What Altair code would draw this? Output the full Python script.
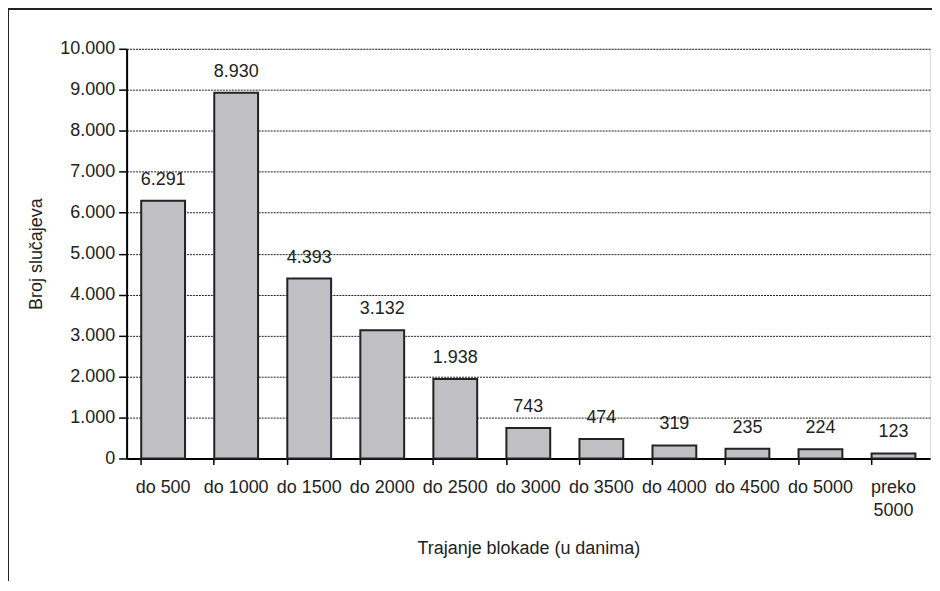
import altair as alt
import pandas as pd

categories = ["do 500", "do 1000", "do 1500", "do 2000", "do 2500", "do 3000",
              "do 3500", "do 4000", "do 4500", "do 5000", "preko 5000"]
values = [6291, 8930, 4393, 3132, 1938, 743, 474, 319, 235, 224, 123]

df = pd.DataFrame({"kat": categories, "broj": values})

FONT = "Liberation Sans"
FS = 18
W, H = 806, 411

x_enc = alt.X(
    "kat:N", sort=categories,
    scale=alt.Scale(paddingInner=0.4, paddingOuter=0.2),
    axis=alt.Axis(
        title="Trajanje blokade (u danima)", labelAngle=0, bandPosition=0,
        labelExpr="datum.label == 'preko 5000' ? ['preko', '5000'] : datum.label",
        tickSize=6, tickColor="black", tickWidth=1.5, domainColor="black", domainWidth=2,
        labelPadding=14, labelFontSize=FS, labelFont=FONT, labelColor="#222",
        titleFontSize=FS, titleFont=FONT, titleFontWeight="normal", titleColor="#222",
        titleY=90, titleBaseline="middle", labelLineHeight=23, grid=False,
    ),
)
y_enc = alt.Y(
    "broj:Q",
    scale=alt.Scale(domain=[0, 10000], nice=False),
    axis=alt.Axis(
        title="Broj slučajeva", values=list(range(0, 10001, 1000)),
        labelExpr="replace(format(datum.value, ','), ',', '.')",
        tickSize=8, tickColor="black", tickWidth=1.5, domainColor="black", domainWidth=2,
        labelPadding=4, labelFontSize=FS, labelFont=FONT, labelColor="#222",
        titleFontSize=FS, titleFont=FONT, titleFontWeight="normal", titleColor="#222",
        titleX=-90, titleY=H / 2, titleBaseline="middle", titleAngle=-90, titleAlign="center",
        grid=True, gridColor="#222", gridDash=[2, 1], gridWidth=1,
    ),
)

bars = alt.Chart(df).mark_bar(
    color="#c0c0c4", stroke="#222", strokeWidth=2
).encode(x=x_enc, y=y_enc)

text = alt.Chart(df).transform_calculate(
    lab="replace(format(datum.broj, ','), ',', '.')"
).mark_text(
    dy=-21, baseline="middle", fontSize=FS, font=FONT, color="#222"
).encode(x=alt.X("kat:N", sort=categories), y="broj:Q", text="lab:N")

frame_df = pd.DataFrame({"k": [0]})
left_line = alt.Chart(frame_df).mark_rule(color="#222", strokeWidth=2).encode(
    x=alt.value(-119), y=alt.value(-41), y2=alt.value(H + 130)
)
top_line = alt.Chart(frame_df).mark_rule(color="#222", strokeWidth=2).encode(
    x=alt.value(-120), x2=alt.value(W + 3), y=alt.value(-40)
)

chart = alt.layer(bars, text, left_line, top_line).properties(
    width=W, height=H,
    autosize=alt.AutoSizeParams(type="none"),
    padding={"left": 119, "top": 40, "right": 2, "bottom": 122},
).configure_view(stroke="#222", strokeWidth=2).configure(background="white")

chart.save("out.html", embed_options={"renderer": "svg", "actions": False})
